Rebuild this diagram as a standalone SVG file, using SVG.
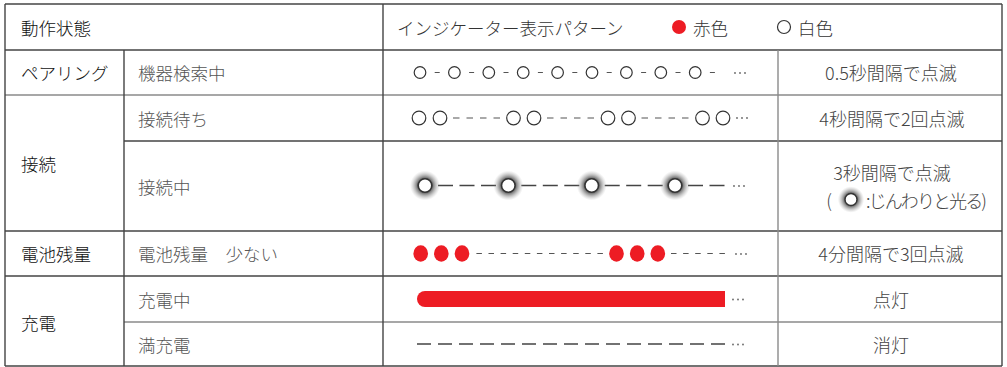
<svg xmlns="http://www.w3.org/2000/svg" width="1007" height="367" viewBox="0 0 1007 367">
<style>
  text { font-family: "Noto Sans CJK JP", "Noto Sans", sans-serif; font-size: 17.5px; dominant-baseline: central; }
  .cat { fill: #111; font-weight: 300; }
  .sub { fill: #555; font-weight: 300; }
  .hd { fill: #333; font-weight: 300; }
  .desc { fill: #444; text-anchor: middle; font-weight: 300; font-size: 18px; }
  .ln { stroke: #444; stroke-width: 1.4; fill: none; }
  .lnl { stroke: #8a8a8a; stroke-width: 1.4; fill: none; }
  .oc { fill: #fff; stroke: #333; stroke-width: 1.2; }
  .gc { fill: #fff; stroke: #333; stroke-width: 1.6; }
  .red { fill: #ed1c24; }
  .dash { stroke: #555; stroke-width: 1.2; }
  .ldash { stroke: #444; stroke-width: 1.4; }
  .dot { fill: #666; }
</style>
<defs>
  <radialGradient id="glow" cx="0.5" cy="0.5" r="0.5">
    <stop offset="0.45" stop-color="#444" stop-opacity="0.9"/>
    <stop offset="0.72" stop-color="#777" stop-opacity="0.45"/>
    <stop offset="1" stop-color="#aaa" stop-opacity="0"/>
  </radialGradient>
  <g id="dots3">
    <circle class="dot" cx="0" cy="0" r="0.9"/>
    <circle class="dot" cx="5" cy="0" r="0.9"/>
    <circle class="dot" cx="10" cy="0" r="0.9"/>
  </g>
  <g id="glowc">
    <circle cx="0" cy="0" r="15" fill="url(#glow)"/>
    <circle class="gc" cx="0" cy="0" r="6.8"/>
  </g>
</defs>
<rect x="0" y="0" width="1007" height="367" fill="#fff"/>

<g id="connectors">
  <line class="ln" x1="5" y1="4" x2="1002" y2="4"/>
  <line class="ln" x1="5" y1="50" x2="1002" y2="50"/>
  <line class="lnl" x1="5" y1="95" x2="1002" y2="95"/>
  <line class="ln" x1="124" y1="141" x2="1002" y2="141"/>
  <line class="ln" x1="5" y1="231" x2="1002" y2="231"/>
  <line class="ln" x1="5" y1="276" x2="1002" y2="276"/>
  <line class="lnl" x1="124" y1="322" x2="1002" y2="322"/>
  <line class="ln" x1="5" y1="366" x2="1002" y2="366"/>
  <line class="ln" x1="5" y1="4" x2="5" y2="366"/>
  <line class="ln" x1="1002" y1="4" x2="1002" y2="366"/>
  <line class="ln" x1="124" y1="50" x2="124" y2="366"/>
  <line class="ln" x1="383" y1="4" x2="383" y2="366"/>
  <line class="lnl" x1="778" y1="50" x2="778" y2="366"/>
</g>

<g id="header">
  <text class="cat" x="21" y="27">動作状態</text>
  <text class="hd" x="397" y="27">インジケーター表示パターン</text>
  <circle class="red" cx="679" cy="27" r="7"/>
  <text class="hd" x="693" y="27">赤色</text>
  <circle class="oc" cx="784" cy="27" r="6.5" stroke-width="1.3"/>
  <text class="hd" x="798" y="27">白色</text>
</g>

<g id="row-pairing">
  <text class="cat" x="21" y="72">ペアリング</text>
  <text class="sub" x="138" y="72">機器検索中</text>
  <g>
    <circle class="oc" cx="420" cy="72.5" r="5.8"/>
    <circle class="oc" cx="454.4" cy="72.5" r="5.8"/>
    <circle class="oc" cx="488.8" cy="72.5" r="5.8"/>
    <circle class="oc" cx="523.2" cy="72.5" r="5.8"/>
    <circle class="oc" cx="557.6" cy="72.5" r="5.8"/>
    <circle class="oc" cx="592" cy="72.5" r="5.8"/>
    <circle class="oc" cx="626.4" cy="72.5" r="5.8"/>
    <circle class="oc" cx="660.8" cy="72.5" r="5.8"/>
    <circle class="oc" cx="695.2" cy="72.5" r="5.8"/>
    <path class="dash" d="M434.7 72.5h5M469.1 72.5h5M503.5 72.5h5M537.9 72.5h5M572.3 72.5h5M606.7 72.5h5M641.1 72.5h5M675.5 72.5h5M709.9 72.5h5"/>
    <use href="#dots3" x="735" y="73"/>
  </g>
  <text class="desc" x="891" y="72">0.5秒間隔で点滅</text>
</g>

<g id="row-connect-wait">
  <text class="cat" x="21" y="163">接続</text>
  <text class="sub" x="138" y="118">接続待ち</text>
  <g>
    <circle class="oc" cx="419" cy="118" r="6.8"/>
    <circle class="oc" cx="440" cy="118" r="6.8"/>
    <circle class="oc" cx="513.5" cy="118" r="6.8"/>
    <circle class="oc" cx="534" cy="118" r="6.8"/>
    <circle class="oc" cx="608" cy="118" r="6.8"/>
    <circle class="oc" cx="628.5" cy="118" r="6.8"/>
    <circle class="oc" cx="702.5" cy="118" r="6.8"/>
    <circle class="oc" cx="723" cy="118" r="6.8"/>
    <path class="dash" d="M453 118h6.5M466.5 118h6.5M480 118h6.5M493.5 118h6.5M547 118h6.5M560.5 118h6.5M574 118h6.5M587.5 118h6.5M641.5 118h6.5M655 118h6.5M668.5 118h6.5M682 118h6.5"/>
    <use href="#dots3" x="737" y="118"/>
  </g>
  <text class="desc" x="892" y="118">4秒間隔で2回点滅</text>
</g>

<g id="row-connecting">
  <text class="sub" x="138" y="186">接続中</text>
  <g>
    <path class="ldash" d="M438 185.5h15M459.5 185.5h15M481 185.5h15M521.3 185.5h15M542.8 185.5h15M564.3 185.5h15M604.7 185.5h15M626.2 185.5h15M647.7 185.5h15M688 185.5h15M709.5 185.5h15"/>
    <use href="#glowc" x="425" y="185.5"/>
    <use href="#glowc" x="508.3" y="185.5"/>
    <use href="#glowc" x="591.7" y="185.5"/>
    <use href="#glowc" x="675" y="185.5"/>
    <use href="#dots3" x="734" y="186"/>
  </g>
  <text class="desc" x="892" y="172">3秒間隔で点滅</text>
  <text class="desc" x="829" y="200">(</text>
  <g transform="translate(851 199.5) scale(0.88)">
    <use href="#glowc"/>
  </g>
  <text class="desc" x="926.5" y="200" textLength="121" lengthAdjust="spacing">:じんわりと光る)</text>
</g>

<g id="row-battery">
  <text class="cat" x="21" y="253">電池残量</text>
  <text class="sub" x="138" y="253">電池残量　少ない</text>
  <g>
    <ellipse class="red" cx="420.7" cy="253.5" rx="7.3" ry="8.2"/>
    <ellipse class="red" cx="441.3" cy="253.5" rx="7.3" ry="8.2"/>
    <ellipse class="red" cx="462" cy="253.5" rx="7.3" ry="8.2"/>
    <ellipse class="red" cx="616.5" cy="253.5" rx="7.3" ry="8.2"/>
    <ellipse class="red" cx="637.2" cy="253.5" rx="7.3" ry="8.2"/>
    <ellipse class="red" cx="657.8" cy="253.5" rx="7.3" ry="8.2"/>
    <path class="dash" d="M476.4 253.5h5.5M488.5 253.5h5.5M500.6 253.5h5.5M512.7 253.5h5.5M524.8 253.5h5.5M536.9 253.5h5.5M549 253.5h5.5M561.1 253.5h5.5M573.2 253.5h5.5M585.3 253.5h5.5M597.4 253.5h5.5M671 253.5h5.5M683.1 253.5h5.5M695.2 253.5h5.5M707.3 253.5h5.5M719.4 253.5h5.5"/>
    <use href="#dots3" x="736" y="254"/>
  </g>
  <text class="desc" x="891" y="253">4分間隔で3回点滅</text>
</g>

<g id="row-charging">
  <text class="cat" x="21" y="322">充電</text>
  <text class="sub" x="138" y="299">充電中</text>
  <path class="red" d="M725 291H425A8 8 0 0 0 425 307H725Z"/>
  <use href="#dots3" x="733" y="299.5"/>
  <text class="desc" x="891" y="299">点灯</text>
</g>

<g id="row-full">
  <text class="sub" x="138" y="344">満充電</text>
  <path class="ldash" d="M417 344h14M438 344h14M459 344h14M480 344h14M501 344h14M522 344h14M543 344h14M564 344h14M585 344h14M606 344h14M627 344h14M648 344h14M669 344h14M690 344h14M711 344h14"/>
  <use href="#dots3" x="733" y="344.5"/>
  <text class="desc" x="891" y="344">消灯</text>
</g>
</svg>
